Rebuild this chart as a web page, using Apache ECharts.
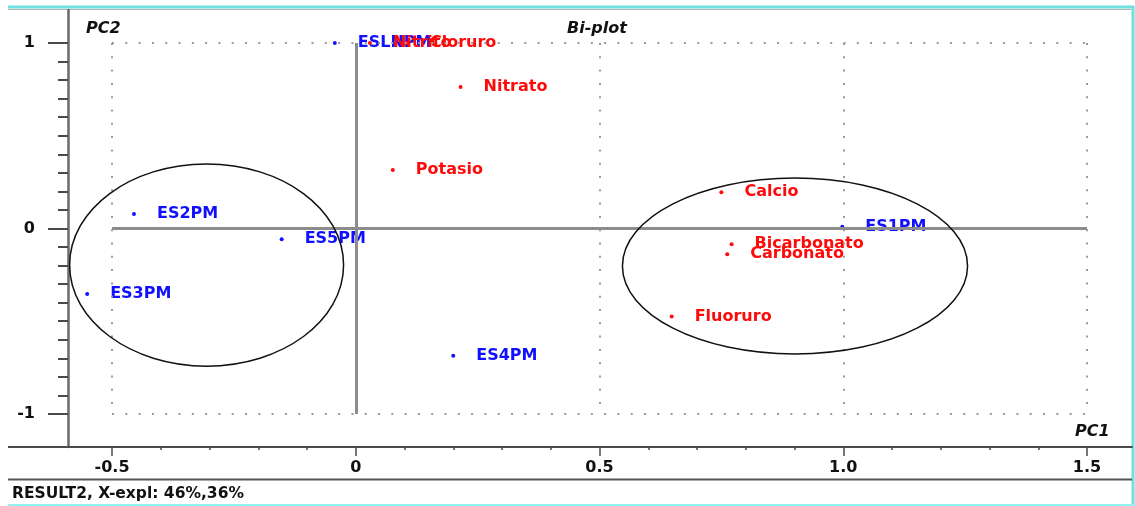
<!DOCTYPE html>
<html>
<head>
<meta charset="utf-8">
<script src="https://cdn.jsdelivr.net/npm/echarts@6/dist/echarts.min.js"></script>
<style>
  html, body { margin: 0; padding: 0; background: #ffffff; }
  #chart { width: 1135px; height: 506px; }
</style>
</head>
<body>
<div id="chart"></div>
<script>
// Samples (objects) – blue
const sampleNames = ['ES1PM', 'ES2PM', 'ES3PM', 'ES4PM', 'ES5PM', 'ESLNPM'];
const sampleX = [0.998, -0.455, -0.551, 0.200, -0.152, -0.043];
const sampleY = [0.010, 0.078, -0.353, -0.686, -0.058, 1.000];

// Variables (loadings) – red
const variableNames = ['Nitrito', 'Cloruro', 'Nitrato', 'Potasio', 'Calcio', 'Bicarbonato', 'Carbonato', 'Fluoruro'];
const variableX = [0.029, 0.105, 0.215, 0.076, 0.750, 0.771, 0.762, 0.648];
const variableY = [1.000, 1.000, 0.763, 0.315, 0.195, -0.085, -0.139, -0.475];

// Group ellipses in PC units: centre and half-axes
const ellipseCX = [-0.306, 0.901];
const ellipseCY = [-0.197, -0.202];
const ellipseRX = [0.281, 0.354];
const ellipseRY = [0.545, 0.474];

// Axis ticks
const xMajorTicks = [-0.5, 0, 0.5, 1, 1.5];
const xMajorLabels = ['-0.5', '0', '0.5', '1.0', '1.5'];
const xMinorTicks = [-0.5, -0.4, -0.3, -0.2, -0.1, 0, 0.1, 0.2, 0.3, 0.4, 0.5, 0.6, 0.7, 0.8, 0.9, 1.0, 1.1, 1.2, 1.3, 1.4, 1.5];
const yMajorTicks = [-1, 0, 1];
const yMajorLabels = ['-1', '0', '1'];
const yMinorTicks = [-1, -0.9, -0.8, -0.7, -0.6, -0.5, -0.4, -0.3, -0.2, -0.1, 0, 0.1, 0.2, 0.3, 0.4, 0.5, 0.6, 0.7, 0.8, 0.9, 1];

const FONT = 'DejaVu Sans';
const xMin = -0.5903, xMax = 1.5923;
const yMin = -1.178, yMax = 1.178;

function lookup(values, labels, v) {
  const i = values.findIndex(t => Math.abs(t - v) < 1e-9);
  return i >= 0 ? labels[i] : '';
}

const chart = echarts.init(document.getElementById('chart'), null, { renderer: 'canvas' });

const axisColor = '#4a4a4a';
const zeroColor = '#8c8c8c';
const dotColor = '#9a9a9a';
const BLUE = '#1010ff';
const RED = '#ff0a0a';
const dotted = { color: dotColor, width: 2, type: [2, 11.3] };
const solid = { color: zeroColor, width: 3, type: 'solid' };

const gridLines = [
  // dotted frame and guide lines
  [{ coord: [-0.5, 1] }, { coord: [1.5, 1] }, dotted],
  [{ coord: [-0.5, -1] }, { coord: [1.5, -1] }, dotted],
  [{ coord: [-0.5, 1] }, { coord: [-0.5, -1] }, dotted],
  [{ coord: [0.5, 1] }, { coord: [0.5, -1] }, dotted],
  [{ coord: [1.0, 1] }, { coord: [1.0, -1] }, dotted],
  [{ coord: [1.5, 1] }, { coord: [1.5, -1] }, dotted],
  // zero lines
  [{ coord: [-0.5, 0] }, { coord: [1.5, 0] }, solid],
  [{ coord: [0, 1] }, { coord: [0, -1] }, solid]
].map(([a, b, st]) => [Object.assign({}, a, { lineStyle: st }), b]);

const labelStyle = (color) => ({
  show: true,
  position: 'right',
  distance: 21,
  color: color,
  opacity: 1,
  fontFamily: FONT,
  fontWeight: 'bold',
  fontSize: 16,
  formatter: p => p.name
});

const option = {
  animation: false,
  backgroundColor: '#ffffff',
  grid: { left: 68, top: 10, width: 1064, height: 437, containLabel: false },
  xAxis: [
    {
      type: 'value', min: xMin, max: xMax, position: 'bottom',
      axisLine: { show: true, onZero: false, lineStyle: { color: axisColor, width: 2 } },
      axisTick: { show: true, customValues: xMajorTicks, length: 9, lineStyle: { color: axisColor, width: 1.5 } },
      axisLabel: {
        show: true, customValues: xMajorTicks, margin: 13,
        color: '#111', fontFamily: FONT, fontWeight: 'bold', fontSize: 16,
        formatter: v => lookup(xMajorTicks, xMajorLabels, v)
      },
      splitLine: { show: false }
    },
    {
      type: 'value', min: xMin, max: xMax, position: 'bottom',
      axisLine: { show: false, onZero: false },
      axisTick: { show: true, customValues: xMinorTicks, length: 3, lineStyle: { color: axisColor, width: 1.5 } },
      axisLabel: { show: false },
      splitLine: { show: false }
    }
  ],
  yAxis: [
    {
      type: 'value', min: yMin, max: yMax, position: 'left',
      axisLine: { show: true, onZero: false, lineStyle: { color: '#6a6a6a', width: 2.5 } },
      axisTick: { show: true, customValues: yMajorTicks, length: 20, lineStyle: { color: axisColor, width: 2 } },
      axisLabel: {
        show: true, customValues: yMajorTicks, margin: 33,
        color: '#111', fontFamily: FONT, fontWeight: 'bold', fontSize: 16,
        formatter: v => lookup(yMajorTicks, yMajorLabels, v)
      },
      splitLine: { show: false }
    },
    {
      type: 'value', min: yMin, max: yMax, position: 'left',
      axisLine: { show: false, onZero: false },
      axisTick: { show: true, customValues: yMinorTicks, length: 10, lineStyle: { color: axisColor, width: 2 } },
      axisLabel: { show: false },
      splitLine: { show: false }
    }
  ],
  series: [
    {
      name: 'guides',
      type: 'scatter',
      data: [],
      silent: true,
      z: 1,
      markLine: { silent: true, symbol: ['none', 'none'], label: { show: false }, data: gridLines }
    },
    {
      name: 'samples',
      type: 'scatter',
      z: 3,
      symbol: 'circle',
      symbolSize: 4,
      itemStyle: { color: BLUE, opacity: 1 },
      label: labelStyle(BLUE),
      data: sampleNames.map((n, i) => ({ name: n, value: [sampleX[i], sampleY[i]] }))
    },
    {
      name: 'variables',
      type: 'scatter',
      z: 4,
      symbol: 'circle',
      symbolSize: 4,
      itemStyle: { color: RED, opacity: 1 },
      label: labelStyle(RED),
      data: variableNames.map((n, i) => ({ name: n, value: [variableX[i], variableY[i]] }))
    },
    {
      name: 'groups',
      type: 'custom',
      silent: true,
      z: 5,
      data: ellipseCX.map((c, i) => [c, ellipseCY[i], ellipseRX[i], ellipseRY[i]]),
      renderItem: (params, api) => {
        const c = api.coord([api.value(0), api.value(1)]);
        const s = api.size([api.value(2), api.value(3)]);
        return {
          type: 'ellipse',
          shape: { cx: c[0], cy: c[1], rx: s[0], ry: s[1] },
          style: { fill: 'none', stroke: '#111', lineWidth: 1.5 }
        };
      }
    }
  ],
  graphic: [
    // window frame
    { type: 'line', shape: { x1: 8, y1: 7, x2: 1134, y2: 7 }, style: { stroke: '#6ee0e0', lineWidth: 3 }, silent: true },
    { type: 'line', shape: { x1: 8, y1: 9.5, x2: 1131, y2: 9.5 }, style: { stroke: '#b0b0b0', lineWidth: 1 }, silent: true },
    { type: 'line', shape: { x1: 1133, y1: 6, x2: 1133, y2: 506 }, style: { stroke: '#6ee0e0', lineWidth: 3 }, silent: true },
    { type: 'line', shape: { x1: 8, y1: 505, x2: 1134, y2: 505 }, style: { stroke: '#8ff0f0', lineWidth: 2 }, silent: true },
    // x axis line extends to the left edge
    { type: 'line', shape: { x1: 8, y1: 447, x2: 68, y2: 447 }, style: { stroke: axisColor, lineWidth: 2 }, silent: true },
    // status bar separator
    { type: 'line', shape: { x1: 8, y1: 479.5, x2: 1132, y2: 479.5 }, style: { stroke: '#555', lineWidth: 2 }, silent: true },
    // titles
    { type: 'text', left: 86, top: 21, silent: true,
      style: { text: 'PC2', fill: '#111', font: 'italic bold 16px "DejaVu Sans"' } },
    { type: 'text', left: 567, top: 21, silent: true,
      style: { text: 'Bi-plot', fill: '#111', font: 'italic bold 16px "DejaVu Sans"' } },
    { type: 'text', left: 1075, top: 424, silent: true,
      style: { text: 'PC1', fill: '#111', font: 'italic bold 16px "DejaVu Sans"' } },
    { type: 'text', left: 12, top: 486, silent: true,
      style: { text: 'RESULT2, X-expl: 46%,36%', fill: '#111', font: 'bold 15.5px "DejaVu Sans"' } }
  ]
};

chart.setOption(option);
</script>
</body>
</html>
